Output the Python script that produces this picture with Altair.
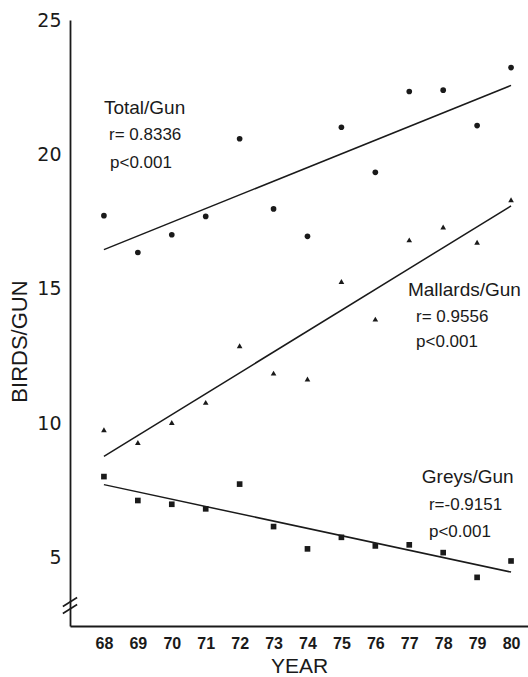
import altair as alt
import pandas as pd

# ---- data ----
years = list(range(68, 81))
total_gun = [17.72, 16.35, 17.01, 17.69, 20.58, 17.97, 16.95, 21.01, 19.33, 22.34, 22.39, 21.07, 23.23]
mallards_gun = [9.75, 9.28, 10.02, 10.77, 12.88, 11.86, 11.64, 15.27, 13.87, 16.82, 17.30, 16.73, 18.31]
greys_gun = [8.01, 7.12, 6.98, 6.81, 7.73, 6.15, 5.32, 5.75, 5.43, 5.47, 5.18, 4.26, 4.87]

series_names = ["Total", "Mallards", "Greys"]
series_shapes = ["circle", "triangle-up", "square"]
series_sizes = [32, 32, 36]

y_ticks = [5, 10, 15, 20, 25]
x_ticks = years

# annotation texts
ann_text = ["Total/Gun", "r= 0.8336", "p<0.001",
            "Mallards/Gun", "r= 0.9556", "p<0.001",
            "Greys/Gun", "r=-0.9151", "p<0.001"]
ann_x = [68.0, 68.15, 68.18, 76.96, 77.2, 77.2, 77.37, 77.58, 77.58]
ann_y = [21.72, 20.72, 19.67, 14.94, 13.94, 13.01, 7.98, 6.94, 5.93]
ann_kind = ["head", "stat", "stat", "head", "stat", "stat", "head", "stat", "stat"]

# axis break marks (data coordinates)
brk_x1 = [66.79, 66.79]
brk_x2 = [67.21, 67.21]
brk_y1 = [3.175, 2.914]
brk_y2 = [3.51, 3.25]

# ---- tables ----
rows = []
for name, vals in zip(series_names, [total_gun, mallards_gun, greys_gun]):
    for yr, v in zip(years, vals):
        rows.append({"year": yr, "value": v, "series": name})
df = pd.DataFrame(rows)
ann = pd.DataFrame({"year": ann_x, "value": ann_y, "text": ann_text, "kind": ann_kind})
brk = pd.DataFrame({"year": brk_x1, "x2": brk_x2, "value": brk_y1, "y2": brk_y2})

INK = "#1a1a1a"
xscale = alt.Scale(domain=[67, 80.5], nice=False, zero=False)
yscale = alt.Scale(domain=[2.45, 25], nice=False, zero=False)

xaxis = alt.Axis(values=x_ticks, format="d", title="YEAR", ticks=False, grid=False,
                 domainColor=INK, domainWidth=1.8,
                 labelFont="Liberation Sans", labelFontSize=16, labelFontWeight="bold",
                 labelColor=INK, labelPadding=9, labelFlush=False, labelOverlap=False,
                 labelBound=False,
                 titleFont="Liberation Sans", titleFontSize=21, titleFontWeight="normal",
                 titleColor=INK, titlePadding=4)
yaxis = alt.Axis(values=y_ticks, title="BIRDS/GUN", ticks=False, grid=False,
                 domainColor=INK, domainWidth=1.8,
                 labelFont="DejaVu Sans", labelFontSize=19, labelColor=INK,
                 labelPadding=9, labelFlush=False, labelOverlap=False,
                 titleFont="Liberation Sans", titleFontSize=22, titleFontWeight="normal",
                 titleColor=INK, titleAngle=270, titleX=-39, titleY=321)

xenc = alt.X("year:Q", scale=xscale, axis=xaxis)
yenc = alt.Y("value:Q", scale=yscale, axis=yaxis)

points = alt.Chart(df).mark_point(filled=True, color=INK, opacity=1).encode(
    x=xenc, y=yenc,
    shape=alt.Shape("series:N", scale=alt.Scale(domain=series_names, range=series_shapes), legend=None),
    size=alt.Size("series:N", scale=alt.Scale(domain=series_names, range=series_sizes), legend=None),
)

lines = alt.Chart(df).transform_regression(
    "year", "value", groupby=["series"], extent=[68, 80]
).mark_line(color=INK, strokeWidth=1.5).encode(
    x=xenc, y=yenc, detail="series:N"
)

heads = alt.Chart(ann).transform_filter(alt.datum.kind == "head").mark_text(
    align="left", baseline="middle", font="Liberation Sans", fontSize=19, color=INK
).encode(x=xenc, y=yenc, text="text:N")

stats = alt.Chart(ann).transform_filter(alt.datum.kind == "stat").mark_text(
    align="left", baseline="middle", font="Liberation Sans", fontSize=17, color=INK
).encode(x=xenc, y=yenc, text="text:N")

breaks = alt.Chart(brk).mark_rule(color=INK, strokeWidth=1.6).encode(
    x=xenc, x2="x2:Q", y=yenc, y2="y2:Q"
)

chart = alt.layer(lines, points, heads, stats, breaks).properties(
    width=458, height=606,
    padding={"left": 70, "top": 20, "right": 0, "bottom": 51},
    autosize=alt.AutoSizeParams(type="none"),
    background="white",
).configure_view(stroke=None).configure_axis(labelOverlap=False)

chart.save("out.html", embed_options={"renderer": "svg", "actions": False})
